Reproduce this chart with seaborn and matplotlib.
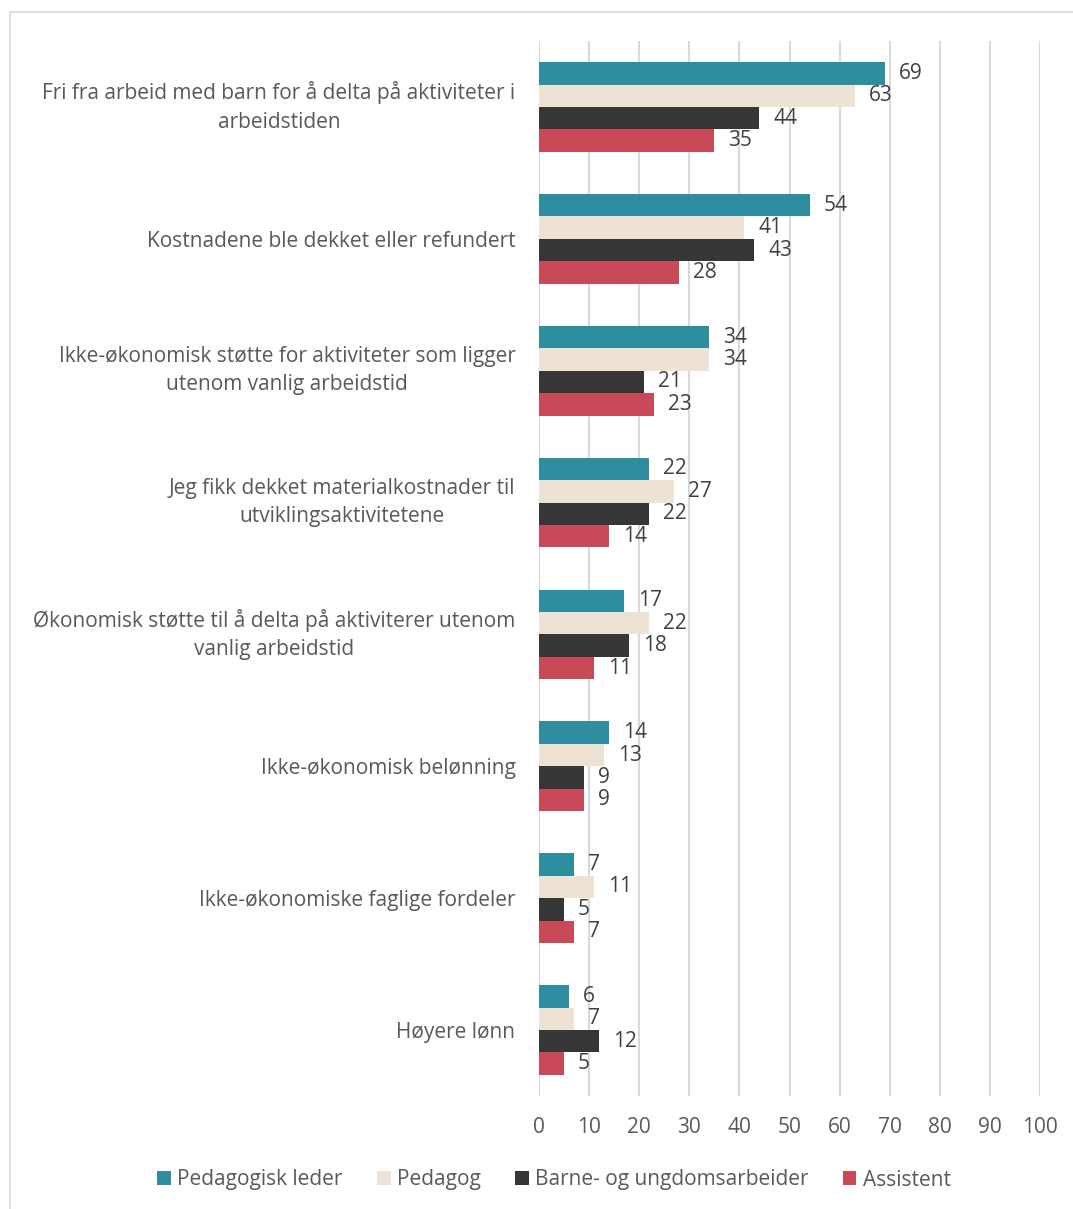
import matplotlib
matplotlib.use("Agg")
import matplotlib.pyplot as plt
from matplotlib.patches import Rectangle, Patch
import seaborn as sns
import pandas as pd

categories = [
    "Fri fra arbeid med barn for å delta på aktiviteter i\narbeidstiden",
    "Kostnadene ble dekket eller refundert",
    "Ikke-økonomisk støtte for aktiviteter som ligger\nutenom vanlig arbeidstid",
    "Jeg fikk dekket materialkostnader til\nutviklingsaktivitetene",
    "Økonomisk støtte til å delta på aktiviterer utenom\nvanlig arbeidstid",
    "Ikke-økonomisk belønning",
    "Ikke-økonomiske faglige fordeler",
    "Høyere lønn",
]
series_names = ["Pedagogisk leder", "Pedagog", "Barne- og ungdomsarbeider", "Assistent"]
pedagogisk_leder = [69, 54, 34, 22, 17, 14, 7, 6]
pedagog = [63, 41, 34, 27, 22, 13, 11, 7]
barne_ungdomsarbeider = [44, 43, 21, 22, 18, 9, 5, 12]
assistent = [35, 28, 23, 14, 11, 9, 7, 5]
colors = ["#2E8E9F", "#EDE2D3", "#363636", "#C84A58"]

rows = []
for name, vals in zip(series_names, [pedagogisk_leder, pedagog, barne_ungdomsarbeider, assistent]):
    for cat, v in zip(categories, vals):
        rows.append({"kategori": cat, "gruppe": name, "verdi": v})
df = pd.DataFrame(rows)

sns.set_theme(style="white")
plt.rcParams["font.family"] = ["Open Sans", "DejaVu Sans"]
text_color = "#595959"
value_color = "#404040"

W, H = 1073, 1209
fig = plt.figure(figsize=(W / 100, H / 100), dpi=100)
ax = fig.add_axes([539 / W, 1 - 1096 / H, (1040 - 539) / W, (1096 - 41) / H])

sns.barplot(data=df, y="kategori", x="verdi", hue="gruppe", order=categories,
            hue_order=series_names, palette=colors, orient="h", width=0.68,
            saturation=1, edgecolor="none", linewidth=0, legend=False, ax=ax, zorder=3)

for cont in ax.containers:
    texts = ax.bar_label(cont, fmt="%d", padding=10, fontsize=15, color=value_color)
    for t in texts:
        t.set_va("center")

ax.set_xlim(0, 100)
ax.set_xticks(range(0, 101, 10))
ax.xaxis.grid(True, color="#D9D9D9", linewidth=1.5, zorder=0)
ax.yaxis.grid(False)
for s in ax.spines.values():
    s.set_visible(False)
ax.set_xlabel("")
ax.set_ylabel("")
ax.tick_params(axis="x", length=0, pad=15, labelsize=15, labelcolor=text_color)
ax.tick_params(axis="y", length=0, pad=17, labelsize=15, labelcolor=text_color)
for lbl in ax.get_yticklabels():
    lbl.set_multialignment("center")
    lbl.set_linespacing(1.45)
    if "\n" in lbl.get_text():
        lbl.set_va("center")

handles = [Patch(facecolor=c, edgecolor="none") for c in colors]
fig.legend(handles, series_names, loc="center", bbox_to_anchor=(554 / W, 1 - 1180 / H),
           ncol=4, frameon=False, fontsize=15, labelcolor=text_color,
           handlelength=0.65, handleheight=0.65, handletextpad=0.3, columnspacing=1.65)

fig.patches.append(Rectangle((10 / W, -0.05), 1.1, 1.05 - 12 / H, transform=fig.transFigure,
                             facecolor="none", edgecolor="#D9D9D9", linewidth=1.2))

fig.savefig("out.png", dpi=100)
